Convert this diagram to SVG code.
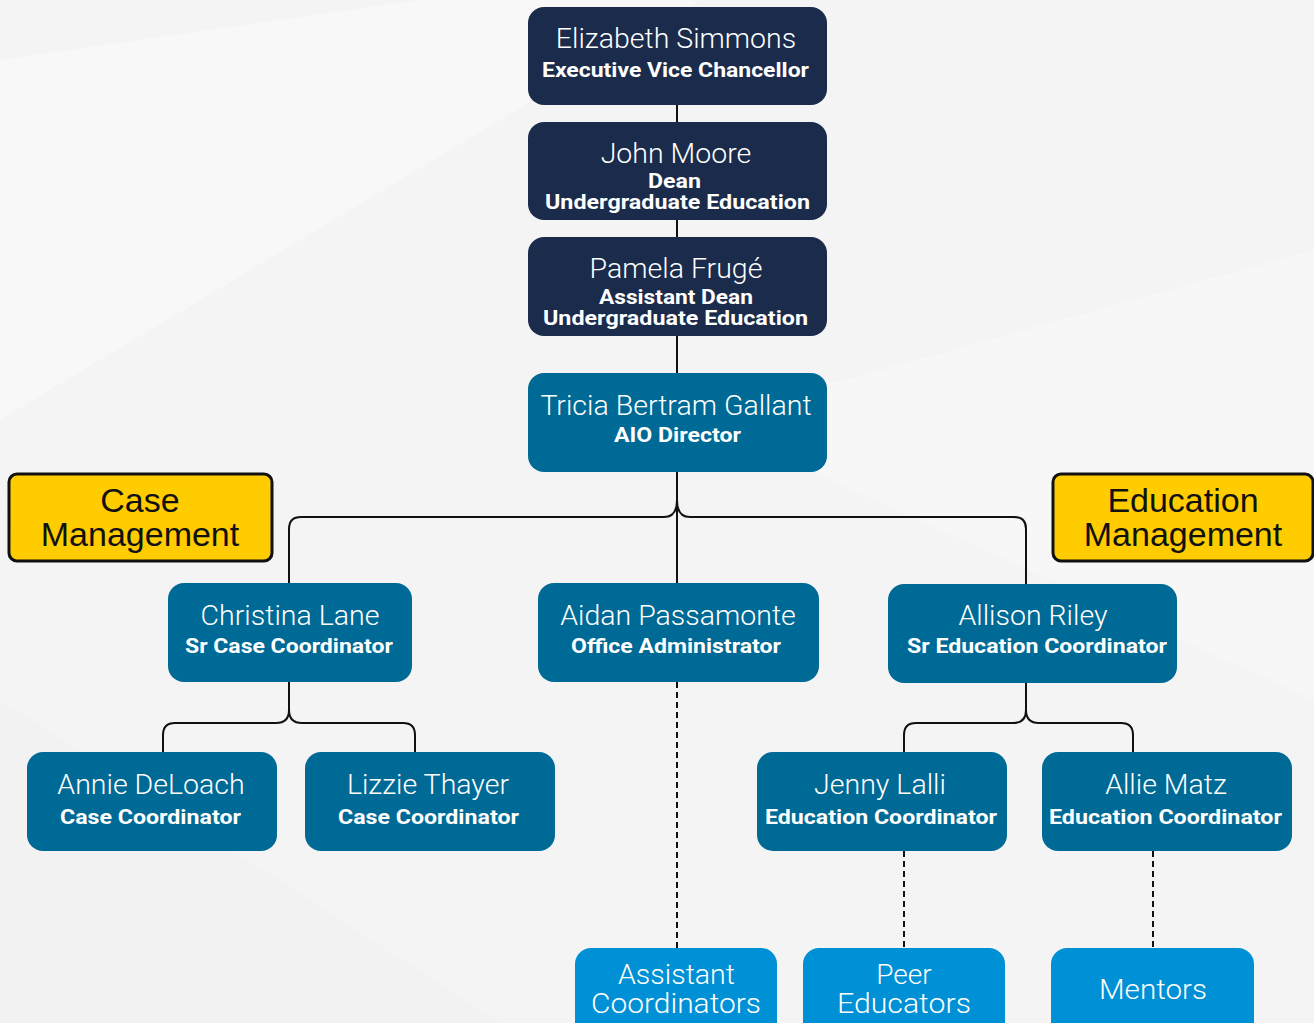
<svg xmlns="http://www.w3.org/2000/svg" width="1314" height="1023" viewBox="0 0 1314 1023">
<style>
.navy{fill:#1b2b4b}
.teal{fill:#006a96}
.blue{fill:#0090d5}
.yel{fill:#ffcc00;stroke:#111;stroke-width:3}
.nm{font-family:Roboto,"Liberation Sans",sans-serif;font-weight:300;font-size:28.5px;fill:#fff;text-anchor:middle}
.tt{font-family:Roboto,"Liberation Sans",sans-serif;font-weight:700;font-size:20px;fill:#fff;text-anchor:middle}
.bt{font-family:Roboto,"Liberation Sans",sans-serif;font-weight:300;font-size:28px;fill:#fff;text-anchor:middle}
.ym{font-family:"Liberation Sans",Arial,sans-serif;font-size:34px;fill:#111;text-anchor:middle}
.ln{fill:none;stroke:#111;stroke-width:2}
.dl{fill:none;stroke:#111;stroke-width:2;stroke-dasharray:6 4}
</style>
<rect width="1314" height="1023" fill="#f4f4f4"/>
<polygon points="0,60 420,0 700,0 0,420" fill="#f8f8f8"/>
<polygon points="700,420 1314,250 1314,700" fill="#f7f7f7"/>
<polygon points="0,700 500,1023 0,1023" fill="#f2f2f2"/>
<g id="connectors">
<path class="ln" d="M677,105 V583"/>
<path class="ln" d="M677,500 Q677,517 664,517 H301 Q289,517 289,529 V583"/>
<path class="ln" d="M677,500 Q677,517 690,517 H1014 Q1026,517 1026,529 V584"/>
<path class="ln" d="M289,682 V710 Q289,723 276,723 H175 Q163,723 163,735 V752"/>
<path class="ln" d="M289,710 Q289,723 302,723 H403 Q415,723 415,735 V752"/>
<path class="ln" d="M1026,683 V710 Q1026,723 1013,723 H916 Q904,723 904,735 V752"/>
<path class="ln" d="M1026,710 Q1026,723 1039,723 H1121 Q1133,723 1133,735 V752"/>
<path class="dl" d="M677,682 V948"/>
<path class="dl" d="M904,851 V948"/>
<path class="dl" d="M1153,851 V948"/>
</g>
<g id="elizabeth"><rect class="navy" x="528" y="7" width="299" height="98" rx="16"/><text class="nm" x="676" y="48">Elizabeth Simmons</text><text class="tt" x="675.5" y="77" textLength="267" lengthAdjust="spacingAndGlyphs">Executive Vice Chancellor</text></g>
<g id="john"><rect class="navy" x="528" y="122" width="299" height="98" rx="16"/><text class="nm" x="676" y="163">John Moore</text><text class="tt" x="674.5" y="188" textLength="53" lengthAdjust="spacingAndGlyphs">Dean</text><text class="tt" x="677.5" y="209" textLength="265" lengthAdjust="spacingAndGlyphs">Undergraduate Education</text></g>
<g id="pamela"><rect class="navy" x="528" y="237" width="299" height="99" rx="16"/><text class="nm" x="676" y="278">Pamela Frugé</text><text class="tt" x="676" y="304" textLength="154" lengthAdjust="spacingAndGlyphs">Assistant Dean</text><text class="tt" x="675.5" y="325" textLength="265" lengthAdjust="spacingAndGlyphs">Undergraduate Education</text></g>
<g id="tricia"><rect class="teal" x="528" y="373" width="299" height="99" rx="16"/><text class="nm" x="676" y="415">Tricia Bertram Gallant</text><text class="tt" x="677.5" y="442" textLength="127" lengthAdjust="spacingAndGlyphs">AIO Director</text></g>
<g id="case-management"><rect class="yel" x="9" y="474" width="263" height="87" rx="8"/><text class="ym" x="140" y="512">Case</text><text class="ym" x="140" y="546">Management</text></g>
<g id="education-management"><rect class="yel" x="1053" y="474" width="260" height="87" rx="8"/><text class="ym" x="1183" y="512">Education</text><text class="ym" x="1183" y="546">Management</text></g>
<g id="christina"><rect class="teal" x="168" y="583" width="244" height="99" rx="16"/><text class="nm" x="290" y="625">Christina Lane</text><text class="tt" x="289" y="653" textLength="208" lengthAdjust="spacingAndGlyphs">Sr Case Coordinator</text></g>
<g id="aidan"><rect class="teal" x="538" y="583" width="281" height="99" rx="16"/><text class="nm" x="678" y="625">Aidan Passamonte</text><text class="tt" x="676" y="653" textLength="210" lengthAdjust="spacingAndGlyphs">Office Administrator</text></g>
<g id="allison"><rect class="teal" x="888" y="584" width="289" height="99" rx="16"/><text class="nm" x="1033" y="625">Allison Riley</text><text class="tt" x="1037" y="653" textLength="260" lengthAdjust="spacingAndGlyphs">Sr Education Coordinator</text></g>
<g id="annie"><rect class="teal" x="27" y="752" width="250" height="99" rx="16"/><text class="nm" x="151" y="794">Annie DeLoach</text><text class="tt" x="150.5" y="824" textLength="181" lengthAdjust="spacingAndGlyphs">Case Coordinator</text></g>
<g id="lizzie"><rect class="teal" x="305" y="752" width="250" height="99" rx="16"/><text class="nm" x="428" y="794">Lizzie Thayer</text><text class="tt" x="428.5" y="824" textLength="181" lengthAdjust="spacingAndGlyphs">Case Coordinator</text></g>
<g id="jenny"><rect class="teal" x="757" y="752" width="250" height="99" rx="16"/><text class="nm" x="880" y="794">Jenny Lalli</text><text class="tt" x="881" y="824" textLength="232" lengthAdjust="spacingAndGlyphs">Education Coordinator</text></g>
<g id="allie"><rect class="teal" x="1042" y="752" width="250" height="99" rx="16"/><text class="nm" x="1166" y="794">Allie Matz</text><text class="tt" x="1165.5" y="824" textLength="233" lengthAdjust="spacingAndGlyphs">Education Coordinator</text></g>
<g id="assistant-coordinators"><rect class="blue" x="575" y="948" width="202" height="100" rx="16"/><text class="bt" x="676.5" y="984" textLength="117" lengthAdjust="spacingAndGlyphs">Assistant</text><text class="bt" x="676" y="1013" textLength="170" lengthAdjust="spacingAndGlyphs">Coordinators</text></g>
<g id="peer-educators"><rect class="blue" x="803" y="948" width="202" height="100" rx="16"/><text class="bt" x="904" y="984">Peer</text><text class="bt" x="904" y="1013" textLength="134" lengthAdjust="spacingAndGlyphs">Educators</text></g>
<g id="mentors"><rect class="blue" x="1051" y="948" width="203" height="100" rx="16"/><text class="bt" x="1153" y="999" textLength="108" lengthAdjust="spacingAndGlyphs">Mentors</text></g>
</svg>
